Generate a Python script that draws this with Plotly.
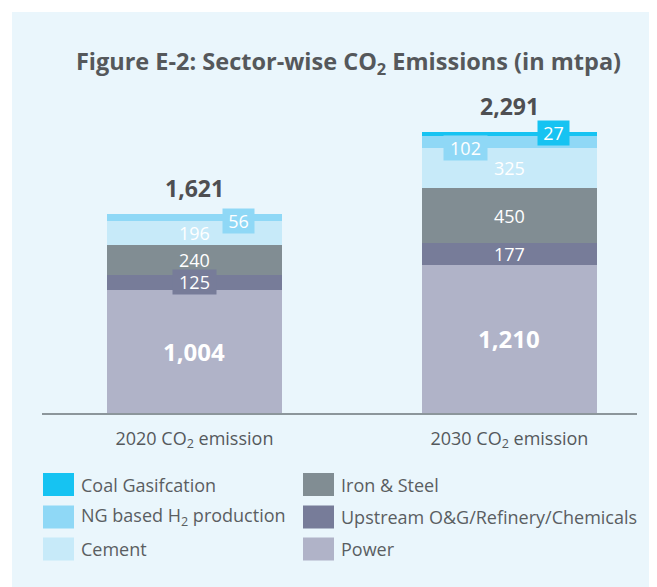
import plotly.graph_objects as go

# ---- data ----
categories = ["2020 CO<sub>2</sub> emission", "2030 CO<sub>2</sub> emission"]
sectors = ["Power", "Upstream O&G/Refinery/Chemicals", "Iron & Steel", "Cement",
           "NG based H<sub>2</sub> production", "Coal Gasifcation"]
power = [1004, 1210]
upstream = [125, 177]
iron_steel = [240, 450]
cement = [196, 325]
ng_h2 = [56, 102]
coal_gas = [0, 27]
totals = [1621, 2291]

series = [power, upstream, iron_steel, cement, ng_h2, coal_gas]
colors = ["#B0B3C8", "#777C99", "#818D93", "#C7EAF9", "#8FD8F6", "#16C3F2"]

FONT = "Open Sans"
OFF = 8  # page body margin
W, H = 657 - OFF, 587 - OFF
L = 42 - OFF
T = 100 - OFF
AX_Y = 413 - OFF
R = W - (637 - OFF)
B = H - AX_Y
PW, PH = W - L - R, H - T - B
PX_PER_UNIT = 0.1225
YMAX = PH / PX_PER_UNIT

fig = go.Figure()
for name, vals, col in zip(sectors, series, colors):
    fig.add_trace(go.Bar(x=categories, y=vals, name=name, marker_color=col,
                         marker_line_width=0, width=0.556, showlegend=False,
                         hoverinfo="y+name"))

annotations = []
label_style = {
    "Power": [None, None],
    "Upstream O&G/Refinery/Chemicals": [("box", 0, 0), None],
    "Iron & Steel": [None, None],
    "Cement": [None, None],
    "NG based H<sub>2</sub> production": [("box", 44, -3), ("box", -44, -6)],
    "Coal Gasifcation": [None, ("box", 44, 1)],
}
for ci, cat in enumerate(categories):
    base = 0
    for name, vals, col in zip(sectors, series, colors):
        v = vals[ci]
        if v <= 0:
            continue
        mid = base + v / 2
        base += v
        style = label_style[name][ci]
        txt = f"{v:,}"
        if name == "Power":
            annotations.append(dict(x=cat, y=mid, text=f"<b>{txt}</b>", showarrow=False,
                                    font=dict(family=FONT, size=24, color="white")))
        elif style is None:
            annotations.append(dict(x=cat, y=mid, text=txt, showarrow=False,
                                    font=dict(family=FONT, size=18, color="white")))
        else:
            _, xs, ys = style
            w = 39 if v >= 100 else 27
            annotations.append(dict(x=cat, y=mid, text=txt, showarrow=False,
                                    xshift=xs, yshift=ys, bgcolor=col, width=w, height=20,
                                    borderpad=2,
                                    font=dict(family=FONT, size=18, color="white")))
    annotations.append(dict(x=cat, y=totals[ci], text=f"<b>{totals[ci]:,}</b>",
                            showarrow=False, yanchor="bottom", yshift=8,
                            font=dict(family=FONT, size=23, color="#4E4F52")))

legend_order = ["Coal Gasifcation", "NG based H<sub>2</sub> production", "Cement",
                "Iron & Steel", "Upstream O&G/Refinery/Chemicals", "Power"]
shapes = []
def px_to_paper_x(px):
    return (px - OFF - L) / PW
def px_to_paper_y(py):
    return (AX_Y - (py - OFF)) / PH

# background panel
shapes.append(dict(type="rect", xref="paper", yref="paper",
                   x0=px_to_paper_x(12), x1=px_to_paper_x(670),
                   y0=px_to_paper_y(600), y1=px_to_paper_y(12),
                   fillcolor="#EAF6FC", line_width=0, layer="below"))

col_x = [43, 303]
row_y = [484.5, 517, 549]
for i, name in enumerate(legend_order):
    c, r = divmod(i, 3)
    col = colors[sectors.index(name)]
    sx, sy = col_x[c], row_y[r]
    shapes.append(dict(type="rect", xref="paper", yref="paper",
                       x0=px_to_paper_x(sx), x1=px_to_paper_x(sx + 31),
                       y0=px_to_paper_y(sy + 11.5), y1=px_to_paper_y(sy - 11.5),
                       fillcolor=col, line_width=0))
    annotations.append(dict(xref="paper", yref="paper", x=px_to_paper_x(sx + 36),
                            y=px_to_paper_y(sy), xanchor="left", yanchor="middle",
                            text=name, showarrow=False,
                            font=dict(family=FONT, size=18, color="#5A5E62")))

fig.update_layout(
    width=W, height=H,
    margin=dict(l=L, r=R, t=T, b=B),
    barmode="stack",
    paper_bgcolor="white",
    plot_bgcolor="rgba(0,0,0,0)",
    title=dict(text="<b>Figure E-2: Sector-wise CO<sub>2</sub> Emissions (in mtpa)</b>",
               x=(348.5 - OFF) / W, xanchor="center", y=1 - (62 - OFF) / H, yanchor="middle",
               font=dict(family=FONT, size=23.5, color="#55585B")),
    xaxis=dict(type="category", range=[-0.484, 1.405], showline=True,
               linecolor="#8C969B", linewidth=2, ticks="", showgrid=False,
               tickfont=dict(family=FONT, size=18, color="#55595C"),
               ticklabelstandoff=8, fixedrange=True),
    yaxis=dict(range=[0, YMAX], visible=False, showgrid=False, fixedrange=True),
    shapes=shapes,
    annotations=annotations,
    bargap=0,
)

fig.write_html("out.html")
